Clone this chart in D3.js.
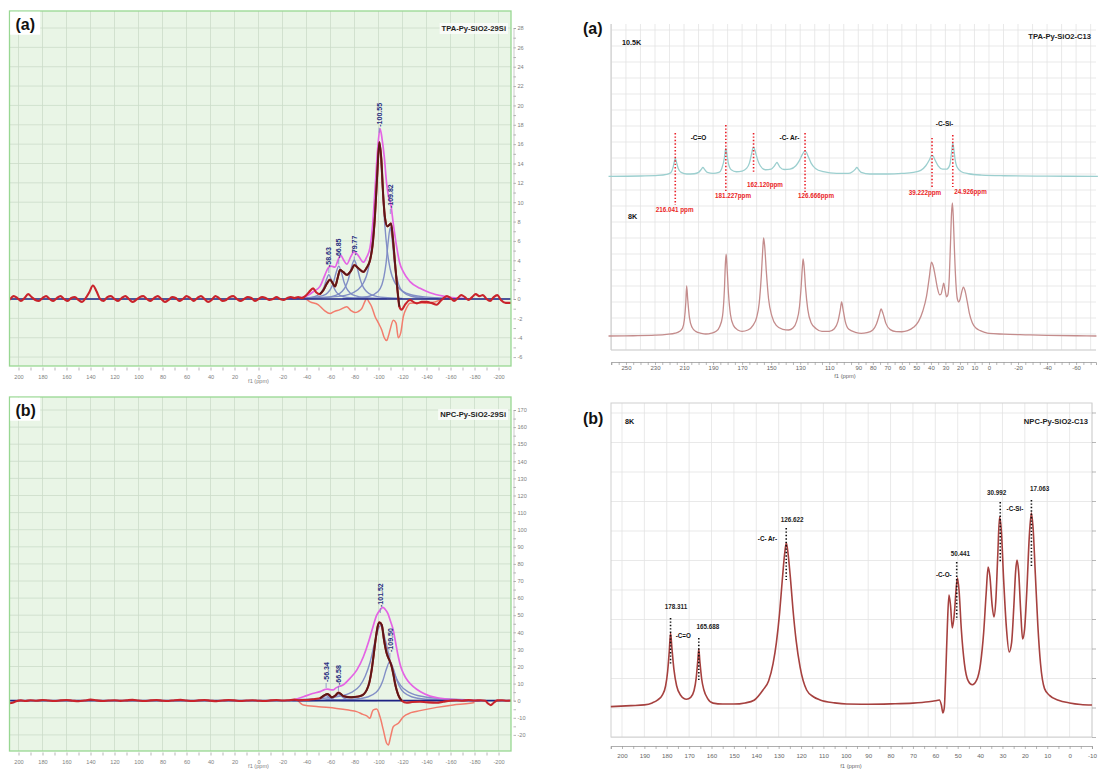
<!DOCTYPE html>
<html><head><meta charset="utf-8">
<script src="https://cdn.jsdelivr.net/npm/d3@7/dist/d3.min.js"></script>
<style>
body{margin:0;background:#fff;}
text{font-family:"Liberation Sans",Arial,sans-serif;}
</style></head><body>
<svg id="chart" width="1099" height="769" xmlns="http://www.w3.org/2000/svg"></svg>
<script>
// ================= DATA =================
// 29Si panels: x in ppm, y in intensity units
const siXTicks = d3.range(200, -201, -20);
const siXMinor = d3.range(200, -201, -10);
const tlYTicks = d3.range(-6, 29, 2);
const tlYMinor = d3.range(-6, 29, 1);
const blYTicks = d3.range(-20, 171, 10);
const blYMinor = d3.range(-20, 171, 5);

const tlExp = [[207.5,-0.1],[204,0.3],[201,0.1],[198,-0.2],[195,0.1],[192,0.5],[189,0.2],[186,-0.1],[183,-0.2],[180,0.1],[177,0.3],[174,0.0],[171,-0.2],[168,0.1],[165,0.3],[162,0.0],[159,-0.2],[156,0.1],[153,0.2],[150,-0.1],[147,-0.3],[144,0.1],[141,0.7],[138,1.4],[135,0.8],[132,0.0],[129,-0.2],[126,0.2],[123,0.3],[120,0.0],[117,-0.2],[114,0.1],[111,0.3],[108,0.0],[105,-0.3],[102,-0.1],[99,0.2],[96,0.3],[93,0.0],[90,-0.2],[87,0.1],[84,0.3],[81,0.0],[78,-0.3],[75,-0.1],[72,0.2],[69,0.1],[66,-0.2],[63,0.0],[60,0.3],[57,0.1],[54,-0.2],[51,0.1],[48,0.3],[45,0.0],[42,-0.3],[39,-0.1],[36,0.3],[33,0.1],[30,-0.2],[27,-0.1],[24,0.2],[21,0.3],[18,0.0],[15,-0.2],[12,0.0],[9,0.2],[6,0.1],[3,-0.2],[0,0.0],[-3,0.2],[-6,0.1],[-9,-0.1],[-12,0.0],[-15,0.2],[-18,0.0],[-21,-0.1],[-24,0.1],[-27,0.2],[-30,0.1],[-33,0.2],[-36,0.1],[-39,0.3],[-42,0.7],[-45.5,1.1],[-48,0.7],[-51,0.5],[-54,0.9],[-57,1.6],[-59.6,2.0],[-62,1.6],[-63.8,1.3],[-66,2.2],[-67.9,3.0],[-70.5,2.8],[-73.5,2.5],[-77,2.9],[-79.9,3.5],[-83,3.2],[-87.4,2.8],[-90,3.2],[-92.9,4.0],[-95,5.5],[-97,8.5],[-99,13.0],[-100.7,16.2],[-102.3,14.5],[-104,10.5],[-105.5,8.3],[-107.4,7.5],[-109.3,7.7],[-110.4,7.8],[-111.8,6.5],[-113.75,3.7],[-115.5,1.3],[-117.4,-0.8],[-119.3,-1.1],[-122,-0.6],[-126.3,-0.1],[-129,-0.3],[-132,-0.45],[-136,-0.3],[-140.2,-0.3],[-144,-0.4],[-148.5,-0.6],[-151,-0.3],[-154,0.07],[-157,0.3],[-160,0.1],[-163,-0.2],[-166,0.1],[-169,0.4],[-172,0.2],[-175,-0.1],[-178,0.2],[-181,0.5],[-184,0.3],[-187,0.4],[-190,0.0],[-193,-0.2],[-196,0.2],[-199,0.4],[-202,-0.1],[-206,-0.4],[-210.4,-0.4]];
const tlSum = [[-25,0.05],[-30,0.1],[-37.4,0.2],[-42,0.45],[-45.6,0.75],[-51.25,1.3],[-55.4,2.5],[-58,3.2],[-60.4,3.4],[-63.75,3.3],[-66.5,4.1],[-68.5,4.5],[-71,4.0],[-73.5,3.6],[-77,4.4],[-79.6,4.9],[-83,4.5],[-87.4,3.8],[-90,4.3],[-92.9,5.3],[-95,7.5],[-97.1,11.3],[-99.3,15.5],[-101.25,17.6],[-103,16.5],[-104.8,14.7],[-106.8,11.9],[-108.5,10.5],[-110.1,9.9],[-112.3,7.8],[-115.1,5.4],[-117.5,3.8],[-120.7,2.8],[-126.25,1.8],[-134.6,1.1],[-142.9,0.65],[-154,0.3],[-165,0.1],[-172,0.05]];
const tlCompA = [[-26.6,0.04],[-38.6,0.1],[-46.6,0.25],[-50.6,0.5],[-52.6,0.77],[-54.6,1.25],[-56.6,2.0],[-58.6,2.5],[-60.6,2.0],[-62.6,1.25],[-64.6,0.77],[-66.6,0.5],[-70.6,0.25],[-78.6,0.1],[-90.6,0.04]];
const tlCompB = [[-26.9,0.04],[-44.4,0.13],[-53.4,0.34],[-57.9,0.68],[-60.15,1.05],[-62.4,1.7],[-64.65,2.72],[-66.9,3.4],[-69.15,2.72],[-71.4,1.7],[-73.65,1.05],[-75.9,0.68],[-80.4,0.34],[-89.4,0.13],[-106.9,0.04]];
const tlCompC = [[-39.8,0.06],[-54.8,0.15],[-64.8,0.4],[-69.8,0.8],[-72.3,1.23],[-74.8,2.0],[-77.3,3.2],[-79.8,4.0],[-82.3,3.2],[-84.8,2.0],[-87.3,1.23],[-89.8,0.8],[-94.8,0.4],[-104.8,0.15],[-119.8,0.06]];
const tlCompD = [[-40,0.1],[-64.6,0.24],[-78.1,0.61],[-87.1,1.58],[-91.6,3.16],[-93.85,4.9],[-96.1,7.9],[-98.35,12.6],[-100.6,15.8],[-102.85,12.6],[-105.1,7.9],[-107.35,4.9],[-109.6,3.16],[-114.1,1.58],[-123.1,0.61],[-136.6,0.24],[-160,0.08]];
const tlCompE = [[-70,0.05],[-81.8,0.11],[-92.3,0.28],[-99.3,0.74],[-102.8,1.48],[-104.55,2.3],[-106.3,3.7],[-108.05,5.9],[-109.8,7.4],[-111.55,5.9],[-113.3,3.7],[-115.05,2.3],[-116.8,1.48],[-120.3,0.74],[-127.3,0.28],[-137.8,0.11],[-150,0.05]];
const tlRes = [[-35,0],[-39,0.0],[-43,-0.3],[-49.9,-0.6],[-55,-1.2],[-59.6,-1.5],[-63,-1.3],[-67.9,-1.1],[-73.5,-0.8],[-77,-1.2],[-80.4,-1.4],[-83,-1.3],[-86,-1.0],[-88.5,-0.3],[-90.2,0.07],[-92,-0.3],[-94.3,-0.8],[-97.1,-1.8],[-100,-2.5],[-102.7,-3.2],[-104.8,-4.0],[-106.8,-4.3],[-108.3,-3.8],[-109.6,-3.2],[-112.3,-2.2],[-114.6,-2.5],[-116.5,-4.0],[-118.5,-3.5],[-120.7,-1.8],[-123.5,-0.9],[-126.25,-0.45],[-133,-0.4],[-140.2,-0.45],[-147,-0.3],[-154,0.0],[-160,0]];
const tlPeakLabels = [[-58.63,3.3,"-58.63"],[-66.85,4.2,"-66.85"],[-79.77,4.5,"-79.77"],[-100.55,17.8,"-100.55"],[-109.82,9.4,"-109.82"]];

const blExp = [[207.5,-1.5],[205,-1.2],[202,-0.3],[198,0.2],[194,-0.2],[190,0.3],[185,0.0],[180,0.4],[175,0.1],[170,-0.2],[165,0.2],[160,0.4],[155,0.0],[150,-0.3],[145,0.1],[140,0.6],[135,0.2],[130,-0.2],[125,0.1],[120,0.3],[115,-0.1],[110,0.2],[105,0.5],[100,0.1],[95,-0.2],[90,0.2],[85,0.4],[80,0.0],[75,-0.2],[70,0.3],[65,0.5],[60,0.1],[55,-0.2],[50,0.2],[45,0.4],[40,0.0],[35,-0.3],[30,0.1],[25,0.4],[20,0.2],[15,-0.2],[10,0.1],[5,0.3],[0,0.0],[-5,-0.2],[-10,0.2],[-15,0.4],[-20,0.1],[-25,0.3],[-30,0.6],[-34,0.3],[-37.4,0.4],[-42,0.5],[-47,1.0],[-51.25,1.4],[-55.4,3.4],[-57.3,3.9],[-59,3.3],[-61,2.0],[-64,3.0],[-66.5,4.7],[-68.5,4.0],[-70.7,2.7],[-76.25,2.0],[-80,2.2],[-84.6,2.7],[-88,4.0],[-90.2,6.3],[-92.5,11],[-94.3,18],[-96,27],[-97.9,37.5],[-99.5,44],[-100.7,45.8],[-102.7,44.3],[-104.6,35.5],[-106.8,27.7],[-109,23.8],[-111,19.9],[-112.5,15],[-113.75,10.2],[-115,6.5],[-116.5,3.3],[-119.3,0.0],[-123.5,-1.2],[-128,-0.8],[-134.6,-0.6],[-140,-0.9],[-148.5,-1.2],[-154,-0.6],[-159.6,0.0],[-165,0.3],[-170,0.0],[-175,0.4],[-180,0.1],[-185,0.3],[-189,0.0],[-191,-1.5],[-193.5,-2.6],[-196,-1.2],[-199,0.2],[-203,0.3],[-207,0.0],[-210.4,0.1]];
const blSum = [[-25,0.3],[-30,0.7],[-37.4,2.3],[-45,4.2],[-51.25,5.3],[-55,6.5],[-57.1,6.8],[-60,6.4],[-62.1,6.3],[-64.5,7.5],[-66.5,8.2],[-70,9.0],[-76.25,13.1],[-82,18],[-87.4,25.7],[-92,35],[-95.4,43.3],[-98.5,50],[-101.25,53],[-103.6,54.6],[-105.5,53.5],[-107.75,51.1],[-110,46.5],[-112.3,41.3],[-114.5,33],[-116.5,25.7],[-118.5,20],[-120.7,16],[-124.5,11.5],[-129,8.2],[-135,5.2],[-142.9,2.7],[-150,1.6],[-159.6,0.8],[-176,0.2],[-185,0.1]];
const blCompA = [[-28.3,0.05],[-38.8,0.12],[-45.8,0.3],[-49.3,0.6],[-51.05,0.92],[-52.8,1.5],[-54.55,2.4],[-56.3,3.0],[-58.05,2.4],[-59.8,1.5],[-61.55,0.92],[-63.3,0.6],[-66.8,0.3],[-73.8,0.12],[-84.3,0.05]];
const blCompB = [[-34.6,0.05],[-46.6,0.14],[-54.6,0.36],[-58.6,0.72],[-60.6,1.1],[-62.6,1.8],[-64.6,2.9],[-66.6,3.6],[-68.6,2.9],[-70.6,1.8],[-72.6,1.1],[-74.6,0.72],[-78.6,0.36],[-86.6,0.14],[-98.6,0.05]];
const blCompD = [[-30,0.55],[-50,1.2],[-65,2.3],[-77,4.7],[-84.5,8.8],[-89,14.5],[-93,22.5],[-97.25,35.2],[-101.5,44],[-105.75,35.2],[-110,22.5],[-114,14.5],[-118.5,8.8],[-126,4.7],[-138,2.3],[-153,1.2],[-173,0.55]];
const blCompE = [[-60,0.33],[-79.5,0.88],[-91.5,2.3],[-97.5,4.6],[-100.5,7.0],[-103.5,11.5],[-106.5,18.4],[-109.5,23],[-112.5,18.4],[-115.5,11.5],[-118.5,7.0],[-121.5,4.6],[-127.5,2.3],[-139.5,0.88],[-160,0.32]];
const blRes = [[-33,0],[-37.4,-2.5],[-50,-3.5],[-65.1,-4.5],[-75,-5.5],[-81.8,-6.4],[-87,-8],[-90.2,-8.9],[-92.9,-10.3],[-94.5,-7],[-95.7,-5.4],[-98.5,-4.9],[-101.25,-9.4],[-104,-17.1],[-106.8,-24.9],[-108.2,-25.9],[-110.1,-21],[-112.3,-15.2],[-116.5,-13.2],[-120.7,-9.4],[-127,-7],[-134.6,-5.8],[-148.5,-3.9],[-162.3,-2.5],[-176.25,-1.5],[-180,-1.0]];
const blPeakLabels = [[-56.34,10.9,"-56.34"],[-66.58,9.2,"-66.58"],[-101.52,54.8,"-101.52"],[-109.5,28.5,"-109.50"]];

// 13C panel (a): intensities, 100 = tallest 8K peak
const trXTicks = [250,230,210,190,170,150,130,110,90,80,70,60,50,40,30,20,10,0,-20,-40,-60];
const tr105Offset = 120;
const tr105 = [[262,0],[240,0.3],[228,0.7],[222,1.5],[219,3],[217.5,7],[216.6,11.5],[216,13.5],[215.4,11.5],[214,6],[212,3],[208,1.8],[203,2],[200,3],[198,5.5],[197,6.8],[196,5.5],[194,3],[190,2.2],[186,3],[184,6],[182.2,14],[181.5,20],[181.2,21],[180.7,18],[179.5,10],[177.5,5],[174,3.5],[170,4],[167,6],[165,10],[163.5,17],[162.5,21.5],[162,21.8],[161,19],[159.5,13],[157.5,8],[154,5],[150,5.5],[148,7.5],[146.5,10],[146,10.5],[145.3,9.5],[144,7],[141,5.2],[137,5.5],[133,8],[130.5,12],[128.5,16.5],[127,18.8],[126,18.5],[124.5,15],[122.5,10],[119.5,6],[114,3.5],[105,2.2],[97,2.2],[94,3.5],[92,5.5],[91,6.8],[90,5.5],[88,3],[82,1.8],[70,1.8],[60,2.2],[52,3],[47,4.5],[43.5,8],[41,12.5],[39.5,15.8],[38.5,15.3],[37,12],[35,8],[32,5.5],[29,5.5],[27,8.5],[25.8,18],[25.2,23.5],[24.9,24.8],[24.4,22],[23.5,14],[22,7],[19,3.5],[14,2],[5,1],[-10,0.5],[-40,0.2],[-75,0]];
const tr8 = [[262,0],[245,0.2],[230,0.6],[222,1.2],[216,2.2],[213,3.5],[211,6],[209.8,12],[208.8,25],[208.2,37.6],[207.5,28],[206.3,14],[204.5,6.5],[202,3.5],[198,2],[195,1.5],[191,2.2],[188,3.5],[185.5,7],[183.5,15],[182.2,35],[181.5,55],[181,61.6],[180.4,52],[179.4,32],[178,16],[176,8],[173,4.5],[170,3.5],[166,4.5],[162.5,8],[160,14],[158.2,25],[156.8,45],[155.8,65],[155.2,73.7],[154.5,68],[153.3,48],[151.8,28],[149.5,15],[146.5,8],[142,5],[138,4.5],[135,6],[132.5,11],[130.5,22],[129.3,38],[128.5,52],[128,57.9],[127.3,52],[126.3,36],[124.8,20],[122.5,10],[119,5.5],[115,3.5],[110,3.5],[106.5,5.5],[104,11],[102.5,19],[101.5,25.6],[100.5,20],[99,11],[96.5,5],[92,2.8],[88,2],[84,2.5],[80,4.5],[77.5,9],[75.5,16],[74.3,20.3],[73,17],[71,9.5],[68,4.8],[64,3.3],[60,3.2],[56,4],[52,6.5],[48.5,11],[45.5,19],[43,30],[41,45],[39.6,55.6],[38.5,53],[37,45],[35.5,36],[34,31],[33,31.5],[32,36],[31.2,39.8],[30.3,35],[29.2,29.5],[28.3,31],[27.3,45],[26.5,70],[25.8,92],[25.2,100],[24.6,90],[23.8,65],[22.8,40],[21.8,28],[20.8,25.6],[19.8,28],[18.8,33],[17.6,36.8],[16.5,34],[15,26],[13.5,17],[11.5,10],[9,6],[6,4],[3,2.8],[0,2],[-10,1.4],[-25,0.9],[-40,0.5],[-60,0.2],[-74,0]];
// [ppm, top, bottom, label, labelPpm, labelY]
const trMarks = [[216.041,152.6,98.5,"216.041 ppm",216.5,94.7],[181.227,158.6,107.5,"181.227ppm",176.3,105.3],[162.120,152.6,123.3,"162.120ppm",154.3,113.5],[126.666,152.6,108.3,"126.666ppm",119.1,105.3],[39.222,148.9,112,"39.222ppm",44.1,107.5],[24.926,151.1,112,"24.926ppm",12.7,108.3]];
const trGroups = [["-C=O",200,148.9],["-C- Ar-",137.4,148.9],["-C-Si-",30.6,159.4]];

// 13C panel (b)
const brXTicks = d3.range(200, -11, -10);
const brSpec = [[205,-0.3],[196,0.2],[190,0.6],[186.5,1.6],[184,3.2],[182,5.6],[180.5,10.5],[179.6,18],[178.9,28],[178.3,37.8],[177.7,30],[176.8,19],[175.6,10.5],[173.8,5.6],[171.2,3.5],[169.3,4.5],[167.8,8],[166.8,15],[166.1,24],[165.7,29.5],[165.2,23],[164.4,14],[163.4,8.3],[161.8,4],[159.3,1.5],[155,1],[150,1],[145,1.6],[141,3],[137,8.3],[134.5,13],[132.5,22],[131,33],[129.6,48],[128.4,65],[127.4,78],[126.6,84.5],[125.8,79],[124.8,67],[123.6,50],[122.2,34],[120.4,20],[117.5,8.3],[114.5,4.8],[111.5,3.1],[105,1.6],[99.6,1],[90,0.9],[80,1.1],[70,1.5],[63,2.2],[60,2.7],[58.2,3.1],[57.3,0.5],[56.6,-3.6],[56,-1],[55.3,18],[54.6,42],[53.9,57.5],[53.2,52],[52.4,40.4],[51.5,48],[50.6,62],[50.1,66.3],[49.4,60],[48.4,40],[47,22],[45.3,13],[43.5,11],[41.5,13.5],[39.8,22],[38.4,38],[37.3,58],[36.4,72],[35.6,67],[34.6,52],[33.8,46.1],[33,54],[32.1,78],[31.3,97.9],[30.5,91],[29.5,66],[28.2,40],[27,28],[25.9,33],[24.9,52],[24.1,70],[23.5,75.6],[22.8,70],[21.8,48],[21,34.7],[20.1,40],[19.1,60],[18,88],[17.1,100],[16.3,92],[15.3,68],[14.2,42],[13,22],[11.2,9],[9,5.5],[5,3],[0,1.6],[-5,0.8],[-10,0.5]];
const brMarks = [[178.311,45.6,21.2,"178.311",175.9,51.5],[165.688,35.2,13.5,"165.688",161.6,40.8],[126.622,92.2,65.3,"126.622",124.0,96.4],[50.441,74.6,44.6,"50.441",48.8,79.1],[30.992,105.7,74.1,"30.992",32.6,110.7],[17.063,106.7,71.5,"17.063",13.4,112.3]];
const brGroups = [["-C=O",172.6,36.3],["-C- Ar-",135.0,86.5],["-C-O-",56.2,68.2],["-C-Si-",24.4,102.4]];

// ================= DRAW =================
const svg = d3.select('#chart');
svg.append('rect').attr('width',1099).attr('height',769).attr('fill','#fff');
const defs = svg.append('defs');
const mkLine = (x,y)=>d3.line().x(d=>x(d[0])).y(d=>y(d[1])).curve(d3.curveMonotoneX);

function drawSi(p){
  const g = svg.append('g');
  const x = d3.scaleLinear().domain(p.xDom).range([p.l,p.r]);
  const y = d3.scaleLinear().domain(p.yDom).range(p.yRng);
  g.append('rect').attr('x',p.l).attr('y',p.t).attr('width',p.r-p.l).attr('height',p.b-p.t).attr('fill','#e9f5e6');
  g.append('g').selectAll('line').data(siXTicks).join('line')
    .attr('x1',d=>x(d)).attr('x2',d=>x(d)).attr('y1',p.t).attr('y2',p.b)
    .attr('stroke','#cbdcc9').attr('stroke-width',0.8);
  g.append('g').selectAll('line').data(p.yTicks).join('line')
    .attr('y1',d=>y(d)).attr('y2',d=>y(d)).attr('x1',p.l).attr('x2',p.r)
    .attr('stroke','#cbdcc9').attr('stroke-width',0.8);
  const cid='clip-'+p.id;
  defs.append('clipPath').attr('id',cid).append('rect').attr('x',p.l).attr('y',p.t).attr('width',p.r-p.l).attr('height',p.b-p.t);
  const pg=g.append('g').attr('clip-path',`url(#${cid})`);
  const ln = mkLine(x,y);
  pg.append('path').datum(p.res).attr('d',ln).attr('fill','none').attr('stroke','#f27d6d').attr('stroke-width',1.5);
  p.comps.forEach(c=>pg.append('path').datum(c).attr('d',ln).attr('fill','none').attr('stroke','#7c89c4').attr('stroke-width',1.4).attr('opacity',0.95));
  pg.append('path').datum(p.sum).attr('d',ln).attr('fill','none').attr('stroke','#e464e4').attr('stroke-width',1.7);
  pg.append('line').attr('x1',p.l).attr('x2',p.r).attr('y1',y(0)).attr('y2',y(0)).attr('stroke','#1d2384').attr('stroke-width',1.7);
  pg.append('path').datum(p.exp).attr('d',ln).attr('fill','none').attr('stroke','#c9232b').attr('stroke-width',2.1);
  pg.append('path').datum(p.exp.filter(d=>d[0]<=p.dark[0]&&d[0]>=p.dark[1])).attr('d',ln).attr('fill','none').attr('stroke','#5a1818').attr('stroke-width',1.9);
  p.labels.forEach(([pp,v,t])=>{
    g.append('line').attr('x1',x(pp)).attr('x2',x(pp)).attr('y1',y(v)+1).attr('y2',y(v)+6).attr('stroke','#7c89c4').attr('stroke-width',0.8);
    g.append('text').attr('transform',`translate(${x(pp)+2.6},${y(v)}) rotate(-90)`)
      .attr('font-size',7).attr('font-weight','bold').attr('fill','#262c80').text(t);
  });
  g.append('rect').attr('x',p.l).attr('y',p.t).attr('width',p.r-p.l).attr('height',p.b-p.t)
    .attr('fill','none').attr('stroke','#98d792').attr('stroke-width',1.3);
  g.append('rect').attr('x',p.l+0.7).attr('y',p.t+0.7).attr('width',30).attr('height',23).attr('fill','#fff');
  g.append('text').attr('x',p.l+6).attr('y',p.t+19).attr('font-size',16).attr('font-weight','bold').attr('fill','#111').text(p.tag);
  const tt = g.append('text').attr('x',p.r-5).attr('y',p.t+20).attr('text-anchor','end')
    .attr('font-size',7.6).attr('font-weight','bold').attr('fill','#222').text(p.title);
  const bb = tt.node().getBBox();
  g.insert('rect','text:last-child').attr('x',bb.x-2).attr('y',bb.y-1).attr('width',bb.width+4).attr('height',bb.height+2).attr('fill','#fbfdfb').attr('opacity',0.8);
  const xa = d3.axisBottom(x).tickValues(siXMinor).tickSize(3)
    .tickFormat(d=>siXTicks.includes(d)?String(d):'');
  const xg = g.append('g').attr('transform',`translate(0,${p.b+1.5})`).call(xa);
  xg.select('.domain').remove();
  xg.selectAll('line').attr('stroke','#9a9a9a').attr('stroke-width',0.7);
  xg.selectAll('text').attr('font-size',5.6).attr('fill','#808080').attr('dy','0.9em');
  g.append('text').attr('x',x(0)).attr('y',p.b+17).attr('text-anchor','middle').attr('font-size',5.6).attr('fill','#808080').text('f1 (ppm)');
  const ya = d3.axisRight(y).tickValues(p.yMinor).tickSize(2.5)
    .tickFormat(d=>p.yTicks.includes(d)?String(d):'');
  const yg = g.append('g').attr('transform',`translate(${p.r+2.5},0)`).call(ya);
  yg.select('.domain').attr('stroke','#b5b5b5').attr('stroke-width',0.7);
  yg.selectAll('line').attr('stroke','#9a9a9a').attr('stroke-width',0.7);
  yg.selectAll('text').attr('font-size',5.6).attr('fill','#808080').attr('x',4);
}

drawSi({id:'tl',l:9.5,r:511,t:11,b:366,xDom:[207.5,-210.4],yDom:[0,28],yRng:[299,28],
  yTicks:tlYTicks,yMinor:tlYMinor,exp:tlExp,dark:[-50,-118],sum:tlSum,
  comps:[tlCompA,tlCompB,tlCompC,tlCompD,tlCompE],res:tlRes,labels:tlPeakLabels,
  tag:'(a)',title:'TPA-Py-SiO2-29Si'});
drawSi({id:'bl',l:9.5,r:511,t:397,b:751,xDom:[207.5,-210.4],yDom:[0,170],yRng:[700.7,410],
  yTicks:blYTicks,yMinor:blYMinor,exp:blExp,dark:[-50,-120],sum:blSum,
  comps:[blCompA,blCompB,blCompD,blCompE],res:blRes,labels:blPeakLabels,
  tag:'(b)',title:'NPC-Py-SiO2-29Si'});

// ---------- 13C (a) ----------
(function(){
  const L=611,R=1096,T=24,B=350;
  const g=svg.append('g');
  const x=d3.scaleLinear().domain([260.3,-73.7]).range([L,R]);
  const y=d3.scaleLinear().domain([0,100]).range([336,203]);
  const vgrid=d3.range(260,-71,-10);
  g.append('g').selectAll('line').data(vgrid).join('line').attr('x1',d=>x(d)).attr('x2',d=>x(d)).attr('y1',T).attr('y2',B).attr('stroke','#e3e3e3').attr('stroke-width',0.8);
  const hgrid=d3.range(0,21).map(k=>y.invert(B-16*k)).filter(v=>y(v)>=T);
  g.append('g').selectAll('line').data(hgrid).join('line').attr('y1',d=>y(d)).attr('y2',d=>y(d)).attr('x1',L).attr('x2',R).attr('stroke','#e3e3e3').attr('stroke-width',0.8);
  g.append('line').attr('x1',L).attr('x2',L).attr('y1',T).attr('y2',B).attr('stroke','#c8c8c8');
  g.append('line').attr('x1',L).attr('x2',R).attr('y1',B).attr('y2',B).attr('stroke','#d0d0d0').attr('stroke-width',1.2);
  const ln=mkLine(x,y);
  g.append('path').datum(tr105.map(d=>[d[0],d[1]+tr105Offset])).attr('d',ln).attr('fill','none').attr('stroke','#9ccfcf').attr('stroke-width',1.3);
  g.append('path').datum(tr8).attr('d',ln).attr('fill','none').attr('stroke','#c48c8c').attr('stroke-width',1.3);
  trMarks.forEach(([pp,t,b,lab,lp,ly])=>{
    g.append('line').attr('x1',x(pp)).attr('x2',x(pp)).attr('y1',y(t)).attr('y2',y(b)).attr('stroke','#ea1f28').attr('stroke-width',1.6).attr('stroke-dasharray','1.4,2');
    g.append('text').attr('x',x(lp)).attr('y',y(ly)).attr('dy','0.35em').attr('text-anchor','middle').attr('font-size',6.3).attr('font-weight','bold').attr('fill','#ea1f28').text(lab);
  });
  trGroups.forEach(([t,pp,v])=>g.append('text').attr('x',x(pp)).attr('y',y(v)).attr('dy','0.35em').attr('text-anchor','middle').attr('font-size',6.5).attr('font-weight','bold').attr('fill','#111').text(t));
  g.append('text').attr('x',x(252.8)).attr('y',y(221)).attr('dy','0.35em').attr('font-size',7.2).attr('font-weight','bold').attr('fill','#111').text('10.5K');
  g.append('text').attr('x',x(248.6)).attr('y',y(90.2)).attr('dy','0.35em').attr('font-size',7.2).attr('font-weight','bold').attr('fill','#111').text('8K');
  g.append('text').attr('x',R-5).attr('y',36).attr('dy','0.35em').attr('text-anchor','end').attr('font-size',7.6).attr('font-weight','bold').attr('fill','#222').text('TPA-Py-SiO2-C13');
  g.append('text').attr('x',583).attr('y',34).attr('font-size',16).attr('font-weight','bold').attr('fill','#111').text('(a)');
  const xa=d3.axisBottom(x).tickValues(d3.range(260,-71,-5)).tickSize(3).tickFormat(d=>trXTicks.includes(d)?String(d):'');
  const xg=g.append('g').attr('transform','translate(0,362)').call(xa);
  xg.select('.domain').attr('stroke','#999').attr('stroke-width',0.8);
  xg.selectAll('line').attr('stroke','#999').attr('stroke-width',0.7);
  xg.selectAll('text').attr('y',3.5).attr('font-size',6).attr('fill','#666').attr('dy','0.7em').attr('font-family','"Liberation Serif",serif');
  g.append('text').attr('x',845).attr('y',377.5).attr('text-anchor','middle').attr('font-size',5.8).attr('fill','#666').attr('font-family','"Liberation Serif",serif').text('f1 (ppm)');
})();

// ---------- 13C (b) ----------
(function(){
  const L=611,R=1092,T=403,B=737;
  const g=svg.append('g');
  const x=d3.scaleLinear().domain([205,-10]).range([1069.6-205*2.238,1069.6+10*2.238]);
  const y=d3.scaleLinear().domain([0,100]).range([706,513]);
  g.append('g').selectAll('line').data(brXTicks).join('line').attr('x1',d=>x(d)).attr('x2',d=>x(d)).attr('y1',T).attr('y2',B).attr('stroke','#e3e3e3').attr('stroke-width',0.8);
  const hgrid=d3.range(-1,11).map(k=>y.invert(708-29.5*k));
  g.append('g').selectAll('line').data(hgrid).join('line').attr('y1',d=>y(d)).attr('y2',d=>y(d)).attr('x1',L).attr('x2',R).attr('stroke','#e3e3e3').attr('stroke-width',0.8);
  g.append('rect').attr('x',L).attr('y',T).attr('width',R-L).attr('height',B-T).attr('fill','none').attr('stroke','#d0d0d0').attr('stroke-width',1);
  g.append('g').selectAll('line').data(hgrid).join('line').attr('y1',d=>y(d)).attr('y2',d=>y(d)).attr('x1',R).attr('x2',R+4).attr('stroke','#999').attr('stroke-width',0.7);
  const ln=mkLine(x,y);
  g.append('path').datum(brSpec).attr('d',ln).attr('fill','none').attr('stroke','#a6413f').attr('stroke-width',1.6);
  brMarks.forEach(([pp,t,b,lab,lp,ly])=>{
    g.append('line').attr('x1',x(pp)).attr('x2',x(pp)).attr('y1',y(t)).attr('y2',y(b)).attr('stroke','#111').attr('stroke-width',1.6).attr('stroke-dasharray','1.4,2');
    g.append('text').attr('x',x(lp)).attr('y',y(ly)).attr('dy','0.35em').attr('text-anchor','middle').attr('font-size',6.3).attr('font-weight','bold').attr('fill','#222').text(lab);
  });
  brGroups.forEach(([t,pp,v])=>g.append('text').attr('x',x(pp)).attr('y',y(v)).attr('dy','0.35em').attr('text-anchor','middle').attr('font-size',6.3).attr('font-weight','bold').attr('fill','#111').text(t));
  g.append('text').attr('x',625).attr('y',421).attr('dy','0.35em').attr('font-size',7.2).attr('font-weight','bold').attr('fill','#111').text('8K');
  g.append('text').attr('x',R-4).attr('y',421).attr('dy','0.35em').attr('text-anchor','end').attr('font-size',7.6).attr('font-weight','bold').attr('fill','#222').text('NPC-Py-SiO2-C13');
  g.append('text').attr('x',583).attr('y',424).attr('font-size',16).attr('font-weight','bold').attr('fill','#111').text('(b)');
  const xa=d3.axisBottom(x).tickValues(d3.range(205,-11,-5)).tickSize(3).tickFormat(d=>brXTicks.includes(d)?String(d):'');
  const xg=g.append('g').attr('transform','translate(0,746)').call(xa);
  xg.select('.domain').attr('stroke','#999').attr('stroke-width',0.8);
  xg.selectAll('line').attr('stroke','#999').attr('stroke-width',0.7);
  xg.selectAll('text').attr('y',10).attr('font-size',6.2).attr('fill','#666').attr('dy','0.35em').attr('font-family','"Liberation Serif",serif');
  g.append('text').attr('x',851).attr('y',767.5).attr('text-anchor','middle').attr('font-size',5.8).attr('fill','#666').attr('font-family','"Liberation Serif",serif').text('f1 (ppm)');
})();
</script></body></html>
